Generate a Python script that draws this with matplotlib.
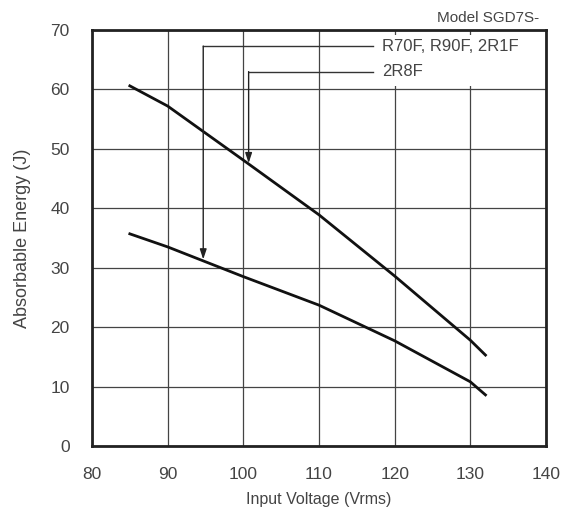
import matplotlib
matplotlib.use("Agg")
import matplotlib.pyplot as plt
from matplotlib.patches import Rectangle

plt.rcParams['font.family'] = ['Liberation Sans', 'DejaVu Sans']

# Data
volt_a = [85, 90, 100, 110, 120, 130, 132]
energy_a = [60.6, 57.2, 48.1, 38.9, 28.6, 17.8, 15.3]   # 2R8F
volt_b = [85, 90, 100, 110, 120, 130, 132]
energy_b = [35.7, 33.5, 28.5, 23.7, 17.7, 10.8, 8.6]    # R70F, R90F, 2R1F

labels = ["R70F, R90F, 2R1F", "2R8F"]
arrow_x = [94.7, 100.7]
arrow_tip_y = [31.4, 47.6]
arrow_y = [67.3, 63.0]
label_x = 118.3
line_end_x = 117.1

xticks = [80, 90, 100, 110, 120, 130, 140]
yticks = [0, 10, 20, 30, 40, 50, 60, 70]

TXT = '#444444'

fig = plt.figure(figsize=(5.71, 5.13), dpi=100)
ax = fig.add_axes([92/571, 67/513, 454/571, 416/513])

ax.set_xlim(80, 140)
ax.set_ylim(0, 70)
ax.set_xticks(xticks)
ax.set_yticks(yticks)
ax.grid(True, color='#444444', linewidth=0.9)
ax.set_axisbelow(True)
ax.tick_params(length=0, labelsize=12.5, colors=TXT)
ax.tick_params(axis='y', pad=16)
ax.tick_params(axis='x', pad=15)
for s in ax.spines.values():
    s.set_linewidth(2)
    s.set_color('#222222')

# white box behind the labels, hiding grid lines there
ax.add_patch(Rectangle((117.4, 60.5), 22.3, 8.7, facecolor='white',
                       edgecolor='none', zorder=1))

ax.plot(volt_a, energy_a, color='#111111', linewidth=2, zorder=3)
ax.plot(volt_b, energy_b, color='#111111', linewidth=2, zorder=3)

for lab, ax_x, tip, yy in zip(labels, arrow_x, arrow_tip_y, arrow_y):
    ax.plot([ax_x, line_end_x], [yy, yy], color='#333333', linewidth=1, zorder=3)
    ax.annotate('', xy=(ax_x, tip), xytext=(ax_x, yy),
                arrowprops=dict(arrowstyle='-|>,head_length=0.6,head_width=0.2',
                                color='#222222', linewidth=1, shrinkA=0, shrinkB=0),
                zorder=3)
    ax.text(label_x, yy, lab, fontsize=12, color=TXT, va='center', ha='left',
            zorder=4)

fig.text(539/571, 1 - 18/513, "Model SGD7S-", fontsize=11, color=TXT,
         ha='right', va='center')

ax.set_xlabel("Input Voltage (Vrms)", fontsize=11.5, color=TXT, labelpad=7)
ax.set_ylabel("Absorbable Energy (J)", fontsize=13, color=TXT, labelpad=14)

fig.savefig("out.png", dpi=100)
